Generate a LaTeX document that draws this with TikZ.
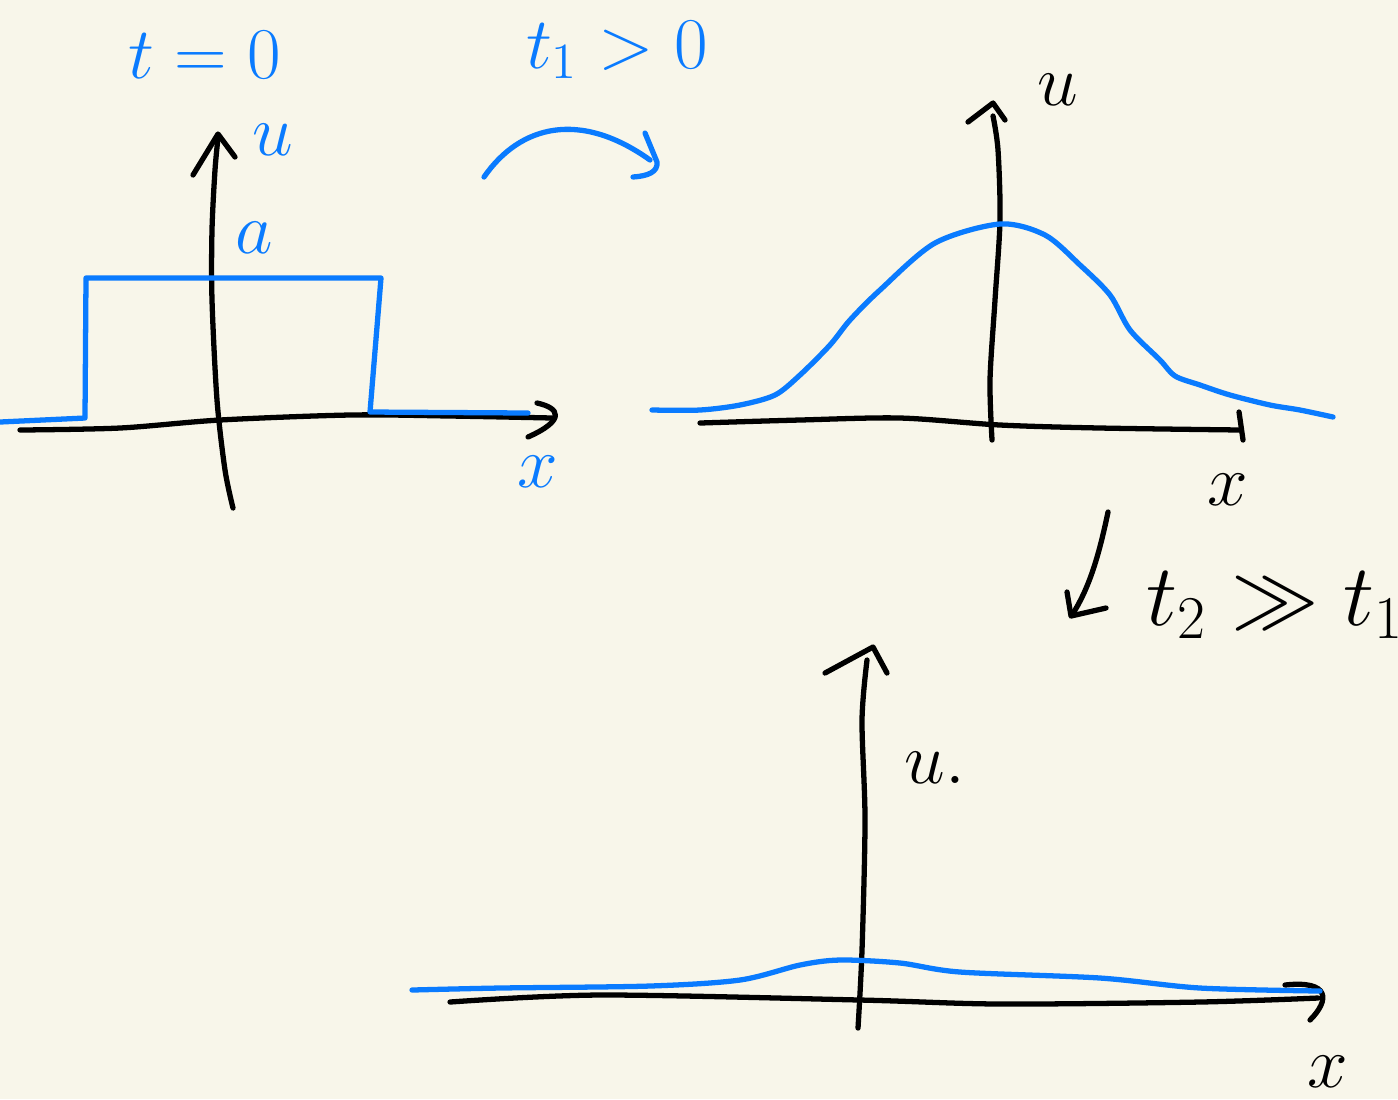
\documentclass[tikz,border=0pt]{standalone}
\usepackage{amsmath,amssymb}
\definecolor{paper}{HTML}{F8F6EA}
\definecolor{penblue}{HTML}{0A7BFF}
\tikzset{
  ink/.style={line width=1.5pt, line cap=round, line join=round},
  blueink/.style={ink, draw=penblue},
  lbl/.style={inner sep=0pt, font=\fontsize{22}{26}\selectfont},
  biglbl/.style={inner sep=0pt, font=\fontsize{26}{30}\selectfont}
}
\begin{document}
\begin{tikzpicture}[x=0.01cm, y=-0.01cm]
  % Page
  \fill[paper] (0,0) rectangle (1398,1099);
  \useasboundingbox (0,0) rectangle (1398,1099);

  % ---- t = 0 : box profile ----
  \draw[ink] plot[smooth] coordinates {(233,508) (225,470) (217,400) (212,300) (212,230) (215,170) (218,138)};
  \draw[ink] (193,175) -- (218,134) -- (235,157);
  \draw[ink] plot[smooth] coordinates {(20,430) (120,428) (220,420) (350,415) (450,416) (553,418)};
  \draw[ink] (537,403) .. controls (560,408) and (566,420) .. (528,437);
  \draw[blueink] (0,422) -- (85,418) -- (86,278) -- (381,278) -- (370,412) -- (528,413);
  \node[lbl, text=penblue] (t0) at (205,55) {$t=0$};
  \node[lbl, text=penblue] (u0) at (273,140) {$u$};
  \node[lbl, text=penblue] (a0) at (254,238) {$a$};
  \node[lbl, text=penblue] (x0) at (538,472) {$x$};

  % ---- evolution arrow t1 > 0 ----
  \draw[blueink] (484,177) .. controls (520,125) and (580,110) .. (650,160);
  \draw[blueink] (645,133) -- (657,162) .. controls (658,172) and (648,176) .. (633,177);
  \node[lbl, text=penblue] (t1) at (617,50) {$t_1>0$};

  % ---- t1 : spread profile ----
  \draw[ink] plot[smooth] coordinates {(992,440) (990,380) (995,300) (1000,220) (998,150) (993,116)};
  \draw[ink] (968,122) -- (993,103) -- (1005,120);
  \draw[ink] plot[smooth] coordinates {(700,423) (800,420) (900,418) (1000,425) (1100,428) (1241,430)};
  \draw[ink] (1239,412) -- (1243,440);
  \draw[blueink] plot[smooth, tension=0.5] coordinates {(652,410) (700,410) (740,405) (775,395) (800,375) (830,345) (850,320) (880,290) (935,243) (1000,224) (1045,235) (1080,265) (1110,295) (1130,330) (1160,360) (1175,376) (1200,385) (1230,395) (1270,405) (1300,410) (1333,417)};
  \node[lbl] (u1) at (1058,90) {$u$};
  \node[lbl] (x1) at (1228,490) {$x$};

  % ---- evolution arrow t2 >> t1 ----
  \draw[ink] (1108,512) .. controls (1098,560) and (1088,590) .. (1072,615);
  \draw[ink] (1067,592) -- (1071,616) -- (1106,608);
  \node[biglbl] (t2) at (1275,605) {$t_2\gg t_1$};

  % ---- t2 : flat profile ----
  \draw[ink] plot[smooth] coordinates {(858,1028) (862,950) (865,820) (862,720) (867,660)};
  \draw[ink] (825,673) -- (873,647) -- (887,673);
  \draw[ink] plot[smooth] coordinates {(450,1002) (600,995) (860,1000) (1000,1004) (1200,1002) (1318,998)};
  \draw[ink] (1285,985) .. controls (1330,980) and (1330,1000) .. (1310,1020);
  \draw[blueink] plot[smooth, tension=0.5] coordinates {(412,990) (500,988) (650,986) (740,980) (800,965) (840,960) (900,963) (960,972) (1100,978) (1200,988) (1320,991)};
  \node[lbl] (u2) at (935,768) {$u.$};
  \node[lbl] (x2) at (1328,1072) {$x$};
\end{tikzpicture}
\end{document}
